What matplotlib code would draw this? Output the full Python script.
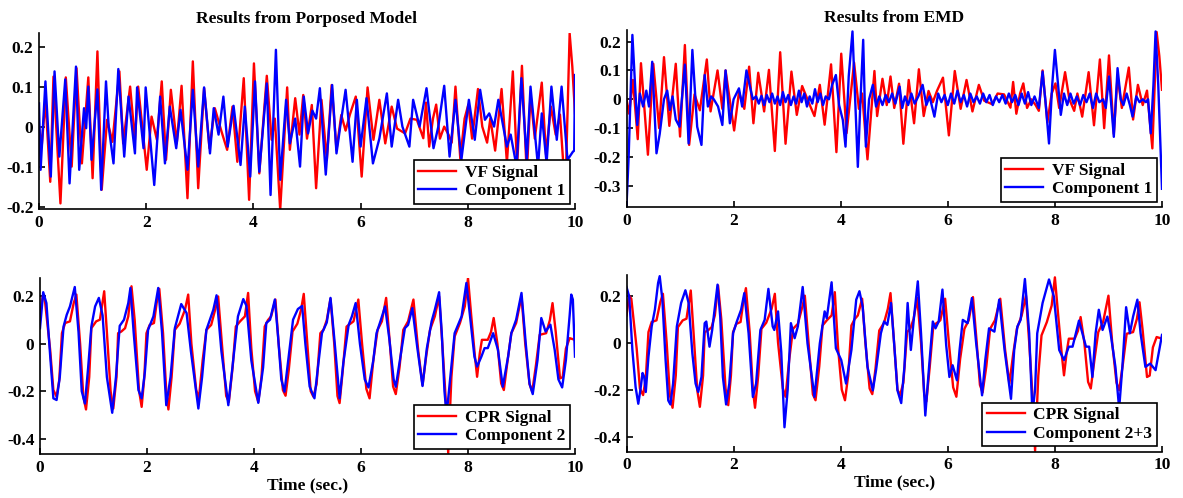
import matplotlib.pyplot as plt

# ---- data (time in s, amplitude) ----
# VF signal (same trace in both upper panels)
vf_t = [0.00, 0.05, 0.12, 0.21, 0.27, 0.40, 0.50, 0.61, 0.70, 0.80, 0.92, 1.00, 1.09, 1.17, 1.27, 1.37,
        1.50, 1.57, 1.70, 1.79, 1.85, 2.01, 2.10, 2.20, 2.29, 2.37, 2.46, 2.57, 2.66, 2.77, 2.87, 2.97,
        3.08, 3.18, 3.28, 3.40, 3.51, 3.61, 3.70, 3.82, 3.92, 4.01, 4.11, 4.25, 4.34, 4.40, 4.50, 4.63,
        4.68, 4.78, 4.86, 4.93, 5.00, 5.09, 5.17, 5.27, 5.37, 5.46, 5.55, 5.64, 5.72, 5.80, 5.91, 6.02,
        6.13, 6.24, 6.35, 6.46, 6.58, 6.68, 6.83, 6.93, 7.05, 7.17, 7.22, 7.28, 7.35, 7.41, 7.48, 7.56,
        7.64, 7.70, 7.77, 7.86, 7.94, 8.01, 8.08, 8.19, 8.27, 8.36, 8.42, 8.51, 8.63, 8.73, 8.84, 8.92,
        9.01, 9.10, 9.17, 9.25, 9.38, 9.46, 9.55, 9.64, 9.72, 9.82, 9.90, 9.95, 10.0]
vf_v = [0.00, -0.05, 0.067, -0.138, 0.125, -0.192, 0.123, -0.10, 0.146, -0.092, 0.123, -0.129, 0.188, -0.158, 0.017, -0.038,
        0.138, -0.042, 0.10, -0.033, 0.10, -0.108, 0.025, -0.033, 0.113, -0.083, 0.092, -0.042, 0.102, -0.179, 0.163, -0.154,
        0.096, -0.054, 0.046, -0.01, -0.058, 0.05, -0.088, 0.121, -0.183, 0.158, -0.117, 0.127, -0.033, 0.02, -0.208, 0.098,
        -0.058, 0.071, -0.02, 0.079, -0.03, 0.054, -0.154, 0.067, -0.083, 0.104, -0.058, 0.029, -0.01, 0.03, 0.075, -0.125,
        0.098, -0.033, 0.067, -0.042, 0.05, -0.005, -0.017, 0.02, 0.017, -0.029, 0.06, -0.05, 0.02, 0.055, -0.03, 0.0,
        -0.02, -0.04, 0.10, -0.08, 0.02, 0.055, -0.03, 0.094, 0.0, -0.04, 0.02, -0.06, 0.094, -0.09, 0.138, -0.10,
        0.152, -0.12, 0.08, -0.03, 0.11, -0.07, 0.05, -0.02, 0.03, -0.17, 0.233, 0.15, 0.033]

# Component 1, proposed model
c1_t = [0.00, 0.03, 0.12, 0.22, 0.29, 0.38, 0.49, 0.57, 0.69, 0.75, 0.84, 0.88, 0.92, 0.98, 1.09, 1.16,
        1.25, 1.30, 1.39, 1.48, 1.59, 1.67, 1.79, 1.83, 1.95, 1.99, 2.15, 2.26, 2.35, 2.44, 2.56, 2.64,
        2.77, 2.87, 2.97, 3.08, 3.19, 3.26, 3.35, 3.44, 3.52, 3.63, 3.76, 3.84, 3.94, 4.03, 4.11, 4.25,
        4.32, 4.42, 4.50, 4.61, 4.68, 4.78, 4.87, 4.94, 5.02, 5.10, 5.17, 5.24, 5.35, 5.47, 5.55, 5.62,
        5.72, 5.85, 5.93, 6.00, 6.11, 6.23, 6.35, 6.49, 6.58, 6.70, 6.78, 6.91, 6.98, 7.10, 7.23, 7.36,
        7.45, 7.56, 7.66, 7.77, 7.88, 8.02, 8.13, 8.23, 8.32, 8.40, 8.49, 8.57, 8.73, 8.80, 8.91, 9.00,
        9.10, 9.17, 9.31, 9.38, 9.47, 9.56, 9.66, 9.75, 9.86, 9.96, 9.985, 10.0]
c1_v = [0.058, -0.108, 0.113, -0.125, 0.138, -0.075, 0.118, -0.142, 0.15, -0.108, 0.046, -0.004, 0.10, -0.083, 0.093, -0.158,
        0.113, 0.0, -0.092, 0.144, -0.075, 0.075, -0.067, 0.098, -0.054, 0.098, -0.146, 0.075, -0.092, 0.05, -0.054, 0.042,
        -0.108, 0.092, -0.10, 0.098, -0.067, 0.046, -0.02, 0.075, -0.05, 0.052, -0.096, 0.05, -0.125, 0.113, -0.113, 0.108,
        -0.171, 0.192, -0.133, 0.067, -0.042, 0.02, -0.10, 0.075, -0.017, 0.04, 0.02, 0.096, -0.12, 0.104, -0.067, 0.0,
        0.092, -0.088, 0.067, -0.05, 0.071, -0.092, -0.03, 0.083, -0.05, 0.067, 0.0, -0.05, 0.067, 0.0, 0.096, -0.054,
        0.0, 0.102, -0.075, 0.067, -0.083, 0.067, -0.033, 0.092, 0.017, 0.033, 0.0, 0.067, -0.05, -0.02, -0.10, 0.121,
        -0.083, 0.10, -0.10, 0.033, -0.092, 0.10, -0.033, 0.10, -0.083, -0.063, -0.06, 0.129]

# Component 1, EMD
e1_t = [0.00, 0.04, 0.11, 0.20, 0.25, 0.31, 0.37, 0.42, 0.48, 0.56, 0.62, 0.70, 0.76, 0.81, 0.86, 0.92,
        0.99, 1.09, 1.16, 1.23, 1.32, 1.40, 1.46, 1.52, 1.58, 1.63, 1.71, 1.79, 1.85, 1.93, 2.00, 2.10,
        2.16, 2.24, 2.31, 2.36, 2.42, 2.47, 2.52, 2.57, 2.62, 2.67, 2.72, 2.77, 2.82, 2.87, 2.92, 2.97,
        3.02, 3.07, 3.12, 3.17, 3.22, 3.27, 3.32, 3.37, 3.42, 3.47, 3.52, 3.57, 3.62, 3.67, 3.72, 3.78,
        3.84, 3.91, 3.97, 4.04, 4.09, 4.15, 4.22, 4.27, 4.32, 4.37, 4.42, 4.47, 4.53, 4.60, 4.66, 4.72,
        4.78, 4.84, 4.90, 4.96, 5.02, 5.10, 5.15, 5.20, 5.26, 5.32, 5.38, 5.45, 5.53, 5.60, 5.66, 5.75,
        5.82, 5.88, 5.94, 6.00, 6.06, 6.12, 6.18, 6.24, 6.30, 6.36, 6.42, 6.48, 6.54, 6.60, 6.66, 6.72,
        6.78, 6.84, 6.90, 6.96, 7.02, 7.08, 7.14, 7.20, 7.26, 7.32, 7.38, 7.44, 7.50, 7.56, 7.62, 7.70,
        7.77, 7.83, 7.89, 7.95, 8.00, 8.06, 8.11, 8.17, 8.23, 8.29, 8.35, 8.41, 8.47, 8.53, 8.59, 8.65,
        8.71, 8.77, 8.83, 8.90, 8.95, 9.01, 9.10, 9.17, 9.23, 9.28, 9.34, 9.40, 9.45, 9.52, 9.58, 9.64,
        9.70, 9.74, 9.79, 9.84, 9.88, 9.93, 10.0]
e1_v = [-0.37, -0.20, 0.223, -0.089, 0.02, -0.025, 0.03, -0.025, 0.13, -0.187, -0.12, 0.0, 0.03, -0.037, 0.01, -0.07,
        -0.095, 0.12, -0.153, 0.171, -0.095, -0.158, 0.084, -0.025, 0.01, 0.0, -0.025, -0.089, 0.10, -0.083, 0.0, 0.038,
        -0.025, 0.10, 0.04, 0.0, 0.01, -0.015, 0.012, -0.02, 0.015, -0.01, 0.02, -0.015, 0.01, -0.02, 0.025, -0.01,
        0.015, -0.02, 0.01, -0.015, 0.03, -0.01, 0.02, -0.025, 0.01, -0.015, 0.035, -0.01, 0.02, -0.02, 0.01, 0.0,
        0.05, 0.084, -0.02, -0.072, -0.164, 0.08, 0.235, 0.0, -0.234, 0.0, 0.206, -0.164, 0.0, 0.05, -0.025, 0.01,
        -0.02, 0.015, -0.01, 0.02, -0.015, 0.044, -0.03, 0.01, -0.02, 0.02, -0.015, 0.01, 0.05, -0.02, 0.01, -0.06,
        0.02, -0.01, 0.015, -0.02, 0.02, -0.015, 0.03, -0.01, 0.015, -0.025, 0.02, -0.01, 0.01, -0.015, 0.02, -0.01,
        0.015, -0.02, 0.01, -0.01, 0.015, -0.015, 0.02, -0.01, 0.015, -0.02, 0.02, -0.015, 0.025, -0.02, 0.01, -0.03,
        0.096, -0.02, -0.153, 0.05, 0.171, 0.05, -0.054, 0.02, -0.02, 0.02, -0.015, 0.01, -0.02, 0.015, -0.01, 0.02,
        -0.03, 0.02, -0.01, 0.0, -0.03, 0.079, -0.13, 0.108, 0.0, -0.02, 0.02, -0.02, -0.06, 0.01, -0.01, 0.0,
        -0.01, 0.0, -0.118, 0.05, 0.235, 0.05, -0.31]

# CPR signal (same trace in both lower panels)
cpr_t = [0.00, 0.05, 0.09, 0.19, 0.25, 0.31, 0.36, 0.41, 0.47, 0.56, 0.63, 0.68, 0.75, 0.81, 0.86, 0.92,
         0.96, 1.05, 1.12, 1.20, 1.25, 1.32, 1.37, 1.43, 1.46, 1.52, 1.59, 1.65, 1.71, 1.77, 1.85, 1.90,
         1.95, 1.99, 2.05, 2.13, 2.18, 2.23, 2.30, 2.36, 2.40, 2.46, 2.52, 2.61, 2.71, 2.77, 2.83, 2.92,
         2.97, 3.04, 3.11, 3.20, 3.29, 3.33, 3.40, 3.48, 3.53, 3.60, 3.66, 3.74, 3.83, 3.89, 3.95, 4.02,
         4.08, 4.14, 4.20, 4.26, 4.32, 4.40, 4.46, 4.54, 4.59, 4.65, 4.72, 4.81, 4.88, 4.93, 4.99, 5.06,
         5.11, 5.17, 5.24, 5.30, 5.36, 5.43, 5.50, 5.56, 5.60, 5.66, 5.73, 5.86, 5.95, 6.02, 6.10, 6.16,
         6.23, 6.31, 6.39, 6.47, 6.54, 6.60, 6.65, 6.72, 6.79, 6.88, 6.98, 7.07, 7.15, 7.22, 7.29, 7.38,
         7.46, 7.52, 7.58, 7.63, 7.69, 7.75, 7.85, 7.94, 8.00, 8.06, 8.13, 8.17, 8.22, 8.26, 8.37, 8.43,
         8.48, 8.55, 8.62, 8.67, 8.74, 8.81, 8.90, 9.00, 9.07, 9.15, 9.20, 9.27, 9.34, 9.46, 9.53, 9.58,
         9.64, 9.72, 9.77, 9.83, 9.90, 10.0]
cpr_v = [0.116, 0.20, 0.187, -0.025, -0.195, -0.223, -0.153, 0.045, 0.088, 0.095, 0.172, 0.208, 0.0, -0.223, -0.277, -0.14,
         0.066, 0.095, 0.102, 0.222, 0.05, -0.20, -0.273, -0.14, 0.045, 0.052, 0.066, 0.116, 0.243, 0.10, -0.195, -0.266,
         -0.14, 0.045, 0.08, 0.088, 0.172, 0.232, 0.045, -0.20, -0.277, -0.14, 0.059, 0.085, 0.144, 0.208, 0.0, -0.195,
         -0.23, -0.07, 0.059, 0.08, 0.158, 0.20, 0.0, -0.22, -0.245, -0.10, 0.073, 0.095, 0.116, 0.215, -0.02, -0.20,
         -0.245, -0.14, 0.073, 0.10, 0.116, 0.187, 0.003, -0.195, -0.219, -0.11, 0.052, 0.085, 0.144, 0.211, 0.02, -0.20,
         -0.223, -0.17, 0.045, 0.06, 0.10, 0.19, 0.0, -0.22, -0.25, -0.11, 0.073, 0.095, 0.187, 0.0, -0.19, -0.23,
         -0.07, 0.059, 0.095, 0.194, 0.0, -0.18, -0.212, -0.10, 0.059, 0.095, 0.187, -0.03, -0.174, -0.05, 0.059, 0.116,
         0.20, 0.0, -0.22, -0.46, -0.14, 0.031, 0.088, 0.158, 0.278, 0.12, -0.054, -0.139, -0.04, 0.017, 0.017, 0.05,
         0.109, 0.0, -0.167, -0.195, -0.07, 0.045, 0.088, 0.20, 0.0, -0.17, -0.202, -0.09, 0.038, 0.045, 0.10, 0.172,
         0.05, -0.146, -0.14, -0.02, 0.024, 0.017]

# Component 2, proposed model
c2_t = [0.00, 0.06, 0.12, 0.19, 0.25, 0.31, 0.37, 0.44, 0.50, 0.56, 0.65, 0.72, 0.78, 0.84, 0.90, 0.96,
        1.03, 1.10, 1.17, 1.25, 1.35, 1.42, 1.49, 1.57, 1.65, 1.69, 1.75, 1.84, 1.90, 1.96, 2.02, 2.12,
        2.21, 2.28, 2.36, 2.44, 2.52, 2.64, 2.74, 2.82, 2.96, 3.03, 3.11, 3.24, 3.30, 3.39, 3.52, 3.61,
        3.70, 3.80, 3.86, 3.95, 4.08, 4.17, 4.23, 4.30, 4.39, 4.45, 4.51, 4.57, 4.64, 4.73, 4.82, 4.90,
        4.96, 5.04, 5.13, 5.21, 5.27, 5.36, 5.43, 5.51, 5.60, 5.67, 5.77, 5.83, 5.90, 5.98, 6.07, 6.14,
        6.23, 6.29, 6.37, 6.45, 6.53, 6.61, 6.65, 6.74, 6.82, 6.88, 6.96, 7.05, 7.15, 7.23, 7.32, 7.38,
        7.46, 7.51, 7.56, 7.60, 7.67, 7.75, 7.88, 7.97, 8.06, 8.12, 8.17, 8.25, 8.31, 8.37, 8.47, 8.56,
        8.65, 8.75, 8.81, 8.90, 9.00, 9.08, 9.15, 9.21, 9.30, 9.37, 9.45, 9.54, 9.62, 9.69, 9.76, 9.83,
        9.90, 9.93, 9.96, 10.0]
c2_v = [0.066, 0.218, 0.172, -0.05, -0.23, -0.237, -0.14, 0.073, 0.123, 0.158, 0.24, 0.05, -0.20, -0.252, -0.10, 0.073,
        0.158, 0.194, 0.12, -0.14, -0.291, -0.14, 0.076, 0.102, 0.172, 0.236, 0.05, -0.195, -0.23, -0.12, 0.059, 0.116,
        0.236, 0.05, -0.259, -0.14, 0.066, 0.168, 0.13, -0.03, -0.273, -0.14, 0.059, 0.144, 0.205, -0.03, -0.259, -0.07,
        0.116, 0.189, 0.16, -0.07, -0.249, -0.10, 0.088, 0.102, 0.187, 0.03, -0.15, -0.202, -0.07, 0.102, 0.147, 0.16,
        0.0, -0.18, -0.23, -0.07, 0.045, 0.09, 0.194, 0.0, -0.23, -0.08, 0.081, 0.116, 0.172, 0.0, -0.15, -0.184,
        -0.07, 0.045, 0.10, 0.158, 0.02, -0.15, -0.181, -0.05, 0.066, 0.08, 0.151, -0.012, -0.178, -0.02, 0.095, 0.144,
        0.218, 0.045, -0.20, -0.30, -0.14, 0.045, 0.116, 0.257, 0.07, -0.054, -0.096, -0.054, -0.018, -0.018, 0.045, -0.025,
        -0.181, -0.054, 0.045, 0.102, 0.215, 0.0, -0.168, -0.212, -0.068, 0.109, 0.052, 0.081, -0.025, -0.15, -0.184, -0.068,
        0.12, 0.208, 0.187, -0.054]

# Component 2+3, EMD
e23_t = [0.00, 0.05, 0.11, 0.17, 0.22, 0.26, 0.30, 0.33, 0.36, 0.41, 0.47, 0.53, 0.59, 0.62, 0.67, 0.73,
         0.78, 0.82, 0.87, 0.94, 1.02, 1.10, 1.16, 1.23, 1.29, 1.34, 1.40, 1.46, 1.49, 1.55, 1.60, 1.70,
         1.75, 1.80, 1.86, 1.92, 1.99, 2.06, 2.14, 2.20, 2.28, 2.36, 2.42, 2.50, 2.58, 2.65, 2.73, 2.76,
         2.83, 2.89, 2.95, 3.01, 3.07, 3.14, 3.20, 3.29, 3.38, 3.51, 3.61, 3.70, 3.74, 3.83, 3.91, 4.01,
         4.10, 4.20, 4.29, 4.35, 4.41, 4.50, 4.60, 4.66, 4.75, 4.81, 4.87, 4.94, 5.00, 5.06, 5.13, 5.19,
         5.25, 5.31, 5.37, 5.44, 5.50, 5.58, 5.65, 5.72, 5.77, 5.83, 5.90, 5.97, 6.03, 6.09, 6.17, 6.22,
         6.28, 6.37, 6.45, 6.53, 6.64, 6.70, 6.77, 6.87, 6.96, 7.06, 7.18, 7.24, 7.30, 7.36, 7.44, 7.52,
         7.58, 7.63, 7.67, 7.77, 7.89, 7.98, 8.08, 8.17, 8.26, 8.33, 8.45, 8.58, 8.64, 8.70, 8.76, 8.82,
         8.89, 8.98, 9.04, 9.13, 9.20, 9.26, 9.33, 9.40, 9.46, 9.54, 9.60, 9.69, 9.78, 9.88, 10.0]
e23_v = [0.237, 0.197, -0.031, -0.189, -0.26, -0.20, -0.129, -0.145, -0.21, -0.06, 0.069, 0.14, 0.254, 0.283, 0.183, -0.074,
         -0.246, -0.263, -0.174, 0.069, 0.169, 0.223, 0.169, -0.046, -0.174, -0.21, -0.146, 0.083, 0.09, -0.017, 0.054, 0.247,
         0.111, -0.146, -0.263, -0.174, 0.04, 0.09, 0.14, 0.211, 0.04, -0.231, -0.174, 0.054, 0.097, 0.229, 0.069, 0.054,
         0.133, -0.04, -0.36, -0.20, 0.083, 0.019, 0.069, 0.237, -0.003, -0.231, -0.003, 0.133, 0.104, 0.257, -0.024, -0.074,
         -0.174, -0.031, 0.183, 0.219, 0.154, -0.103, -0.203, -0.117, 0.04, 0.09, 0.076, 0.169, -0.01, -0.203, -0.257, -0.103,
         0.169, -0.031, 0.111, 0.261, 0.04, -0.31, -0.103, 0.09, 0.061, 0.09, 0.226, -0.011, -0.146, -0.096, -0.16, -0.031,
         0.097, 0.083, 0.19, -0.003, -0.224, -0.074, 0.061, 0.047, 0.183, -0.031, -0.239, -0.031, 0.069, 0.097, 0.271, 0.04,
         -0.30, -0.20, 0.04, 0.169, 0.269, 0.197, -0.031, -0.074, -0.017, -0.017, 0.094, -0.017, -0.017, -0.146, 0.04, 0.14,
         0.054, 0.111, 0.04, -0.103, -0.28, -0.103, 0.151, 0.04, 0.111, 0.183, 0.04, -0.103, -0.089, -0.117, 0.033]

x_ticks = [0, 2, 4, 6, 8, 10]
top_left_yticks = [-0.2, -0.1, 0, 0.1, 0.2]
top_right_yticks = [-0.3, -0.2, -0.1, 0, 0.1, 0.2]
bottom_yticks = [-0.4, -0.2, 0, 0.2]

plt.rcParams['font.family'] = ['Liberation Serif', 'DejaVu Serif']
plt.rcParams['font.weight'] = 'bold'
plt.rcParams['font.size'] = 12.5

W, H = 1183.0, 498.0
fig = plt.figure(figsize=(W / 100, H / 100), dpi=100)


def panel(box, ylim, yticks):
    l, t, r, b = box
    ax = fig.add_axes([l / W, 1 - b / H, (r - l) / W, (b - t) / H])
    ax.set_xlim(0, 10)
    ax.set_ylim(*ylim)
    ax.set_xticks(x_ticks)
    ax.set_xticklabels([str(v) for v in x_ticks])
    ax.set_yticks(yticks)
    ax.set_yticklabels(['0' if v == 0 else ('%g' % v) for v in yticks])
    for s in ['top', 'right']:
        ax.spines[s].set_visible(False)
    for s in ['left', 'bottom']:
        ax.spines[s].set_linewidth(1.2)
    ax.tick_params(direction='in', length=4, width=1.2, labelsize=12.5, pad=4)
    for lab in ax.get_xticklabels() + ax.get_yticklabels():
        lab.set_fontweight('bold')
    return ax


def add_legend(ax, labels):
    leg = ax.legend(labels, loc='lower right', fancybox=False, framealpha=1,
                    edgecolor='black', borderaxespad=0.3, handlelength=2.2,
                    borderpad=0.25, labelspacing=0.15, handletextpad=0.5,
                    prop={'weight': 'bold', 'size': 12.5})
    leg.get_frame().set_linewidth(1.2)
    leg.set_zorder(5)


LW = 1.7

ax1 = panel((39, 33, 575, 209), (-0.206, 0.234), top_left_yticks)
ax1.plot(vf_t, vf_v, color='red', lw=LW)
ax1.plot(c1_t, c1_v, color='blue', lw=LW)
add_legend(ax1, ['VF Signal', 'Component 1'])
ax1.set_title('Results from Porposed Model', fontweight='bold', fontsize=12.5, pad=7)

ax2 = panel((626.5, 30, 1162, 207), (-0.373, 0.24), top_right_yticks)
ax2.plot(vf_t, vf_v, color='red', lw=LW)
ax2.plot(e1_t, e1_v, color='blue', lw=LW)
add_legend(ax2, ['VF Signal', 'Component 1'])
ax2.set_title('Results from EMD', fontweight='bold', fontsize=12.5, pad=6)

ax3 = panel((40, 278, 575, 454), (-0.465, 0.278), bottom_yticks)
ax3.plot(cpr_t, cpr_v, color='red', lw=LW)
ax3.plot(c2_t, c2_v, color='blue', lw=LW)
add_legend(ax3, ['CPR Signal', 'Component 2'])
ax3.set_xlabel('Time (sec.)', fontweight='bold', fontsize=12.5, labelpad=1)

ax4 = panel((626.5, 275, 1162, 451.7), (-0.464, 0.288), bottom_yticks)
ax4.plot(cpr_t, cpr_v, color='red', lw=LW)
ax4.plot(e23_t, e23_v, color='blue', lw=LW)
add_legend(ax4, ['CPR Signal', 'Component 2+3'])
ax4.set_xlabel('Time (sec.)', fontweight='bold', fontsize=12.5, labelpad=1)

fig.savefig('out.png', dpi=100)
